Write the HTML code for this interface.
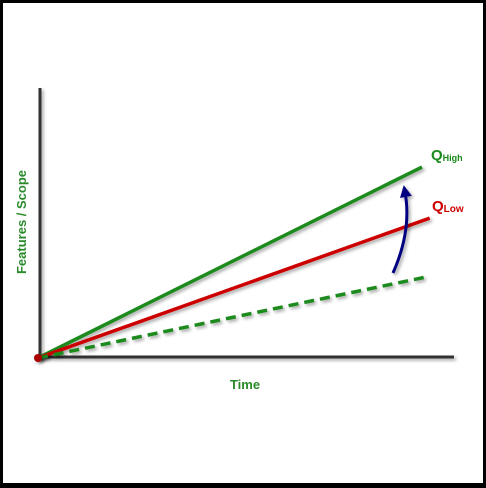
<!DOCTYPE html>
<html><head><meta charset="utf-8"><style>
html,body{margin:0;padding:0;background:#000}
#wrap{position:absolute;left:0;top:0;width:480px;height:480px;border:3px solid #000;background:#fff}
</style></head><body>
<div id="wrap">
<svg id="chart" width="480" height="480" viewBox="3 3 480 480" style="font-family:'Liberation Sans',Arial,sans-serif;font-weight:bold">
<defs><filter id="sh" filterUnits="userSpaceOnUse" x="0" y="0" width="486" height="486"><feDropShadow dx="2" dy="2" stdDeviation="1.5" flood-color="#000" flood-opacity="0.35"/></filter>
<marker id="ah" markerWidth="12" markerHeight="12" refX="5" refY="6" orient="auto" markerUnits="userSpaceOnUse"><path d="M0,0 L12,6 L0,12 Z" fill="#000080"/></marker></defs>
<line x1="40" y1="88" x2="40" y2="359" stroke="#333" stroke-width="3" filter="url(#sh)"/>
<line x1="38" y1="357" x2="454" y2="357" stroke="#333" stroke-width="3" filter="url(#sh)"/>
<text x="26" y="222" transform="rotate(-90 26 222)" text-anchor="middle" fill="#2a8a2a" font-size="13">Features / Scope</text>
<text x="245" y="389" text-anchor="middle" fill="#2a8a2a" font-size="13">Time</text>
<g id="series"></g>
<path d="M393,273 Q412,230 405,192" fill="none" stroke="#000080" stroke-width="3" marker-end="url(#ah)" filter="url(#sh)"/>
<text x="431" y="160" fill="#1a8a1a" font-size="15">Q<tspan font-size="9" dy="1">High</tspan></text>
<text x="432" y="211" fill="#cc0000" font-size="15">Q<tspan font-size="10" dy="1">Low</tspan></text>
<circle cx="38" cy="358" r="4" fill="#aa0000" filter="url(#sh)"/>
</svg></div>
<script>
const seriesNames=['q-high','q-low','baseline'];
const endX=[1.0,1.02,1.007];
const endY=[0.71,0.52,0.30];
const colors=['#1a8a1a','#cc0000','#1a8a1a'];
const dashes=['none','none','10,6'];
const x=v=>38+v*384;
const y=v=>358-v*269;
const g=document.getElementById('series');
for(let i=0;i<seriesNames.length;i++){
 const l=document.createElementNS('http://www.w3.org/2000/svg','line');
 l.setAttribute('x1',x(0));l.setAttribute('y1',y(0));
 l.setAttribute('x2',x(endX[i]));l.setAttribute('y2',y(endY[i]));
 l.setAttribute('stroke',colors[i]);l.setAttribute('stroke-width','3.5');
 l.setAttribute('stroke-dasharray',dashes[i]);
 l.setAttribute('filter','url(#sh)');
 
 
 g.appendChild(l);
}
</script>
</body></html>
